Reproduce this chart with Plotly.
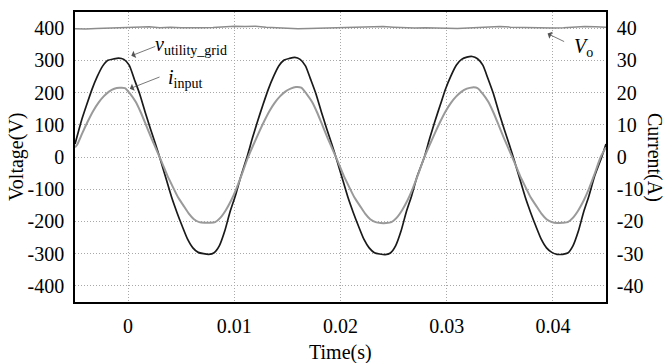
import plotly.graph_objects as go

# ---- data ----
# utility grid voltage (V), left axis
v_grid_t = [
    -0.0050, -0.0044, -0.0039, -0.0034, -0.0029, -0.0024, -0.0019, -0.0014, -0.0009, -0.0004,
    0.0001, 0.0006, 0.0011, 0.0016, 0.0021, 0.0026, 0.0031, 0.0036, 0.0041, 0.0046,
    0.0051, 0.0056, 0.0061, 0.0066, 0.0071, 0.0076, 0.0081, 0.0086, 0.0091, 0.0096,
    0.0101, 0.0106,
    0.0112, 0.0117, 0.0122, 0.0127, 0.0132, 0.0137, 0.0142, 0.0147, 0.0152, 0.0157,
    0.0162, 0.0167, 0.0172, 0.0177, 0.0182, 0.0187, 0.0192, 0.0197, 0.0202, 0.0207,
    0.0212, 0.0217, 0.0222, 0.0227, 0.0232, 0.0237, 0.0242, 0.0247, 0.0252, 0.0257,
    0.0262, 0.0267, 0.0272,
    0.0279, 0.0284, 0.0289, 0.0294, 0.0299, 0.0304, 0.0309, 0.0314, 0.0319, 0.0324,
    0.0329, 0.0334, 0.0339, 0.0344, 0.0349, 0.0354, 0.0359, 0.0364, 0.0369, 0.0374,
    0.0379, 0.0384, 0.0389, 0.0394, 0.0399, 0.0404, 0.0409, 0.0414, 0.0419, 0.0424,
    0.0429, 0.0434, 0.0439, 0.0446, 0.0450,
]
v_grid = [
    40, 112, 162, 210, 250, 282, 300, 304, 307, 303,
    285, 240, 195, 140, 88, 38, -15, -70, -125, -172,
    -215, -255, -282, -296, -300, -302, -297, -275, -230, -170,
    -120, -62,
    0, 58, 112, 162, 210, 250, 283, 301, 306, 309,
    303, 283, 240, 195, 140, 88, 38, -15, -70, -125,
    -172, -215, -255, -282, -297, -301, -303, -298, -275, -230,
    -170, -120, -62,
    0, 58, 112, 162, 212, 252, 285, 303, 310, 312,
    305, 285, 242, 196, 140, 88, 38, -15, -70, -125,
    -172, -215, -255, -282, -296, -302, -302, -298, -275, -230,
    -170, -120, -62, 0, 40,
]

# input current (A), right axis
i_in_t = [
    -0.0050, -0.0048, -0.0043, -0.0038, -0.0033, -0.0028, -0.0023, -0.0018, -0.0013, -0.0008,
    -0.0003, 0.0002, 0.0007, 0.0012, 0.0017, 0.0022, 0.0027, 0.0032, 0.0037, 0.0042,
    0.0047, 0.0052, 0.0057, 0.0062, 0.0067, 0.0072, 0.0077, 0.0082, 0.0087, 0.0092,
    0.0097, 0.0102, 0.0107,
    0.0113, 0.0118, 0.0123, 0.0128, 0.0133, 0.0138, 0.0143, 0.0148, 0.0153, 0.0158,
    0.0163, 0.0168, 0.0173, 0.0178, 0.0183, 0.0188, 0.0193, 0.0198, 0.0203, 0.0208,
    0.0213, 0.0218, 0.0223, 0.0228, 0.0233, 0.0238, 0.0243, 0.0248, 0.0253, 0.0258,
    0.0263, 0.0268, 0.0273,
    0.0279, 0.0284, 0.0289, 0.0294, 0.0299, 0.0304, 0.0309, 0.0314, 0.0319, 0.0324,
    0.0329, 0.0334, 0.0339, 0.0344, 0.0349, 0.0354, 0.0359, 0.0364, 0.0369, 0.0374,
    0.0379, 0.0384, 0.0389, 0.0394, 0.0399, 0.0404, 0.0409, 0.0414, 0.0419, 0.0424,
    0.0429, 0.0434, 0.0439, 0.0445, 0.0450,
]
i_in = [
    3.0, 3.8, 7.5, 11.0, 14.2, 16.8, 18.8, 20.3, 21.2, 21.5,
    21.4, 19.6, 17.2, 13.8, 9.8, 5.8, 2.0, -1.8, -5.8, -9.2,
    -12.5, -15.0, -17.5, -19.3, -20.2, -20.4, -20.4, -20.2, -18.8, -16.5,
    -13.5, -9.8, -5.5,
    0.0, 3.8, 7.5, 11.0, 14.2, 16.8, 18.8, 20.3, 21.2, 21.7,
    21.5, 19.6, 17.2, 13.8, 9.8, 5.8, 2.0, -1.8, -5.8, -9.2,
    -12.5, -15.0, -17.5, -19.3, -20.2, -20.5, -20.5, -20.2, -18.8, -16.5,
    -13.5, -9.8, -5.5,
    0.0, 3.8, 7.5, 11.0, 14.2, 16.8, 18.8, 20.3, 21.2, 21.6,
    21.4, 19.6, 17.2, 13.8, 9.8, 5.8, 2.0, -1.8, -5.8, -9.2,
    -12.5, -15.0, -17.5, -19.3, -20.2, -20.5, -20.4, -20.2, -18.8, -16.5,
    -13.5, -9.8, -5.5, 0.0, 3.0,
]

# output voltage Vo (V), left axis
vo_t = [
    -0.005, -0.004, -0.003, -0.002, -0.001, 0.000, 0.001, 0.002, 0.003, 0.004,
    0.005, 0.006, 0.007, 0.008, 0.009, 0.010, 0.011, 0.012, 0.013, 0.014,
    0.015, 0.016, 0.017, 0.018, 0.019, 0.020, 0.021, 0.022, 0.023, 0.024,
    0.025, 0.026, 0.027, 0.028, 0.029, 0.030, 0.031, 0.032, 0.033, 0.034,
    0.035, 0.036, 0.037, 0.038, 0.039, 0.040, 0.041, 0.042, 0.043, 0.044, 0.045,
]
vo = [
    398, 397, 399, 400, 401, 403, 402, 404, 401, 403,
    401, 400, 401, 402, 404, 406, 405, 406, 403, 401,
    399, 398, 399, 400, 401, 402, 404, 405, 404, 405,
    403, 401, 400, 401, 400, 401, 399, 400, 402, 404,
    405, 403, 402, 401, 399, 400, 401, 403, 405, 404, 403,
]

x_ticks = [0, 0.01, 0.02, 0.03, 0.04]
x_tick_labels = ["0", "0.01", "0.02", "0.03", "0.04"]
v_ticks = [-400, -300, -200, -100, 0, 100, 200, 300, 400]
v_tick_labels = ["-400", "-300", "-200", "-100", "0", "100", "200", "300", "400"]
i_ticks = [-40, -30, -20, -10, 0, 10, 20, 30, 40]
i_tick_labels = ["-40", "-30", "-20", "-10", "0", "10", "20", "30", "40"]

FONT = "Liberation Serif"
TF = dict(family=FONT, size=20, color="black")

fig = go.Figure()
fig.add_trace(go.Scatter(x=vo_t, y=vo, mode="lines", line=dict(color="#8c8c8c", width=1.5), yaxis="y"))
fig.add_trace(go.Scatter(x=i_in_t, y=i_in, mode="lines",
                         line=dict(color="#9a9a9a", width=2, shape="spline", smoothing=0.6), yaxis="y2"))
fig.add_trace(go.Scatter(x=v_grid_t, y=v_grid, mode="lines",
                         line=dict(color="#1a1a1a", width=1.7, shape="spline", smoothing=0.6), yaxis="y"))

grid = dict(showgrid=True, gridcolor="#a8a8a8", griddash="1px,2px", gridwidth=1)
frame = dict(showline=True, linecolor="black", linewidth=1.5, zeroline=False, ticks="",
             automargin=False, tickfont=TF)

fig.update_layout(
    width=666, height=363,
    margin=dict(l=75, r=60, t=12, b=61, autoexpand=False),
    plot_bgcolor="white", paper_bgcolor="white",
    showlegend=False,
    font=dict(family=FONT, size=20, color="black"),
    xaxis=dict(range=[-0.005, 0.045], tickvals=x_ticks, ticktext=x_tick_labels,
               ticklabelstandoff=5, mirror=True, **grid, **frame),
    yaxis=dict(range=[-450, 450], tickvals=v_ticks, ticktext=v_tick_labels,
               ticklabelstandoff=5, mirror=True, **grid, **frame),
    yaxis2=dict(range=[-45, 45], tickvals=i_ticks, ticktext=i_tick_labels,
                overlaying="y", side="right", showgrid=False,
                ticklabelstandoff=5, **frame),
)

# axis titles
fig.add_annotation(text="Time(s)", xref="paper", yref="paper", x=0.5, y=0, yshift=-50,
                   yanchor="middle", xanchor="center", showarrow=False, font=TF)
fig.add_annotation(text="Voltage(V)", xref="paper", yref="paper", x=0, xshift=-59, y=0.5,
                   xanchor="center", yanchor="middle", textangle=-90, showarrow=False, font=TF)
fig.add_annotation(text="Current(A)", xref="paper", yref="paper", x=1, xshift=49, y=0.5,
                   xanchor="center", yanchor="middle", textangle=90, showarrow=False, font=TF)

# labels with arrows
arrow = dict(showarrow=True, arrowhead=1, arrowsize=1.6, arrowwidth=0.8, arrowcolor="#555",
             xref="x", yref="y", axref="x", ayref="y", text="")
fig.add_annotation(x=0.0003, y=314, ax=0.0027, ay=345, **arrow)
fig.add_annotation(x=0.00016, y=212, ax=0.0031, ay=250, **arrow)
fig.add_annotation(x=0.0395, y=383, ax=0.0412, ay=356, **arrow)

fig.add_annotation(text="<i>v</i><sub>utility_grid</sub>", x=0.0023, y=345, xref="x", yref="y",
                   xanchor="left", yanchor="middle", showarrow=False, font=TF)
fig.add_annotation(text="<i>i</i><sub>input</sub>", x=0.0036, y=244, xref="x", yref="y",
                   xanchor="left", yanchor="middle", showarrow=False, font=TF)
fig.add_annotation(text="<i>V</i><sub>o</sub>", x=0.0418, y=340, xref="x", yref="y",
                   xanchor="left", yanchor="middle", showarrow=False, font=TF)

fig.write_html("out.html", config={"displayModeBar": False},
               post_script="document.body.style.margin='0';document.body.style.overflow='hidden';")
